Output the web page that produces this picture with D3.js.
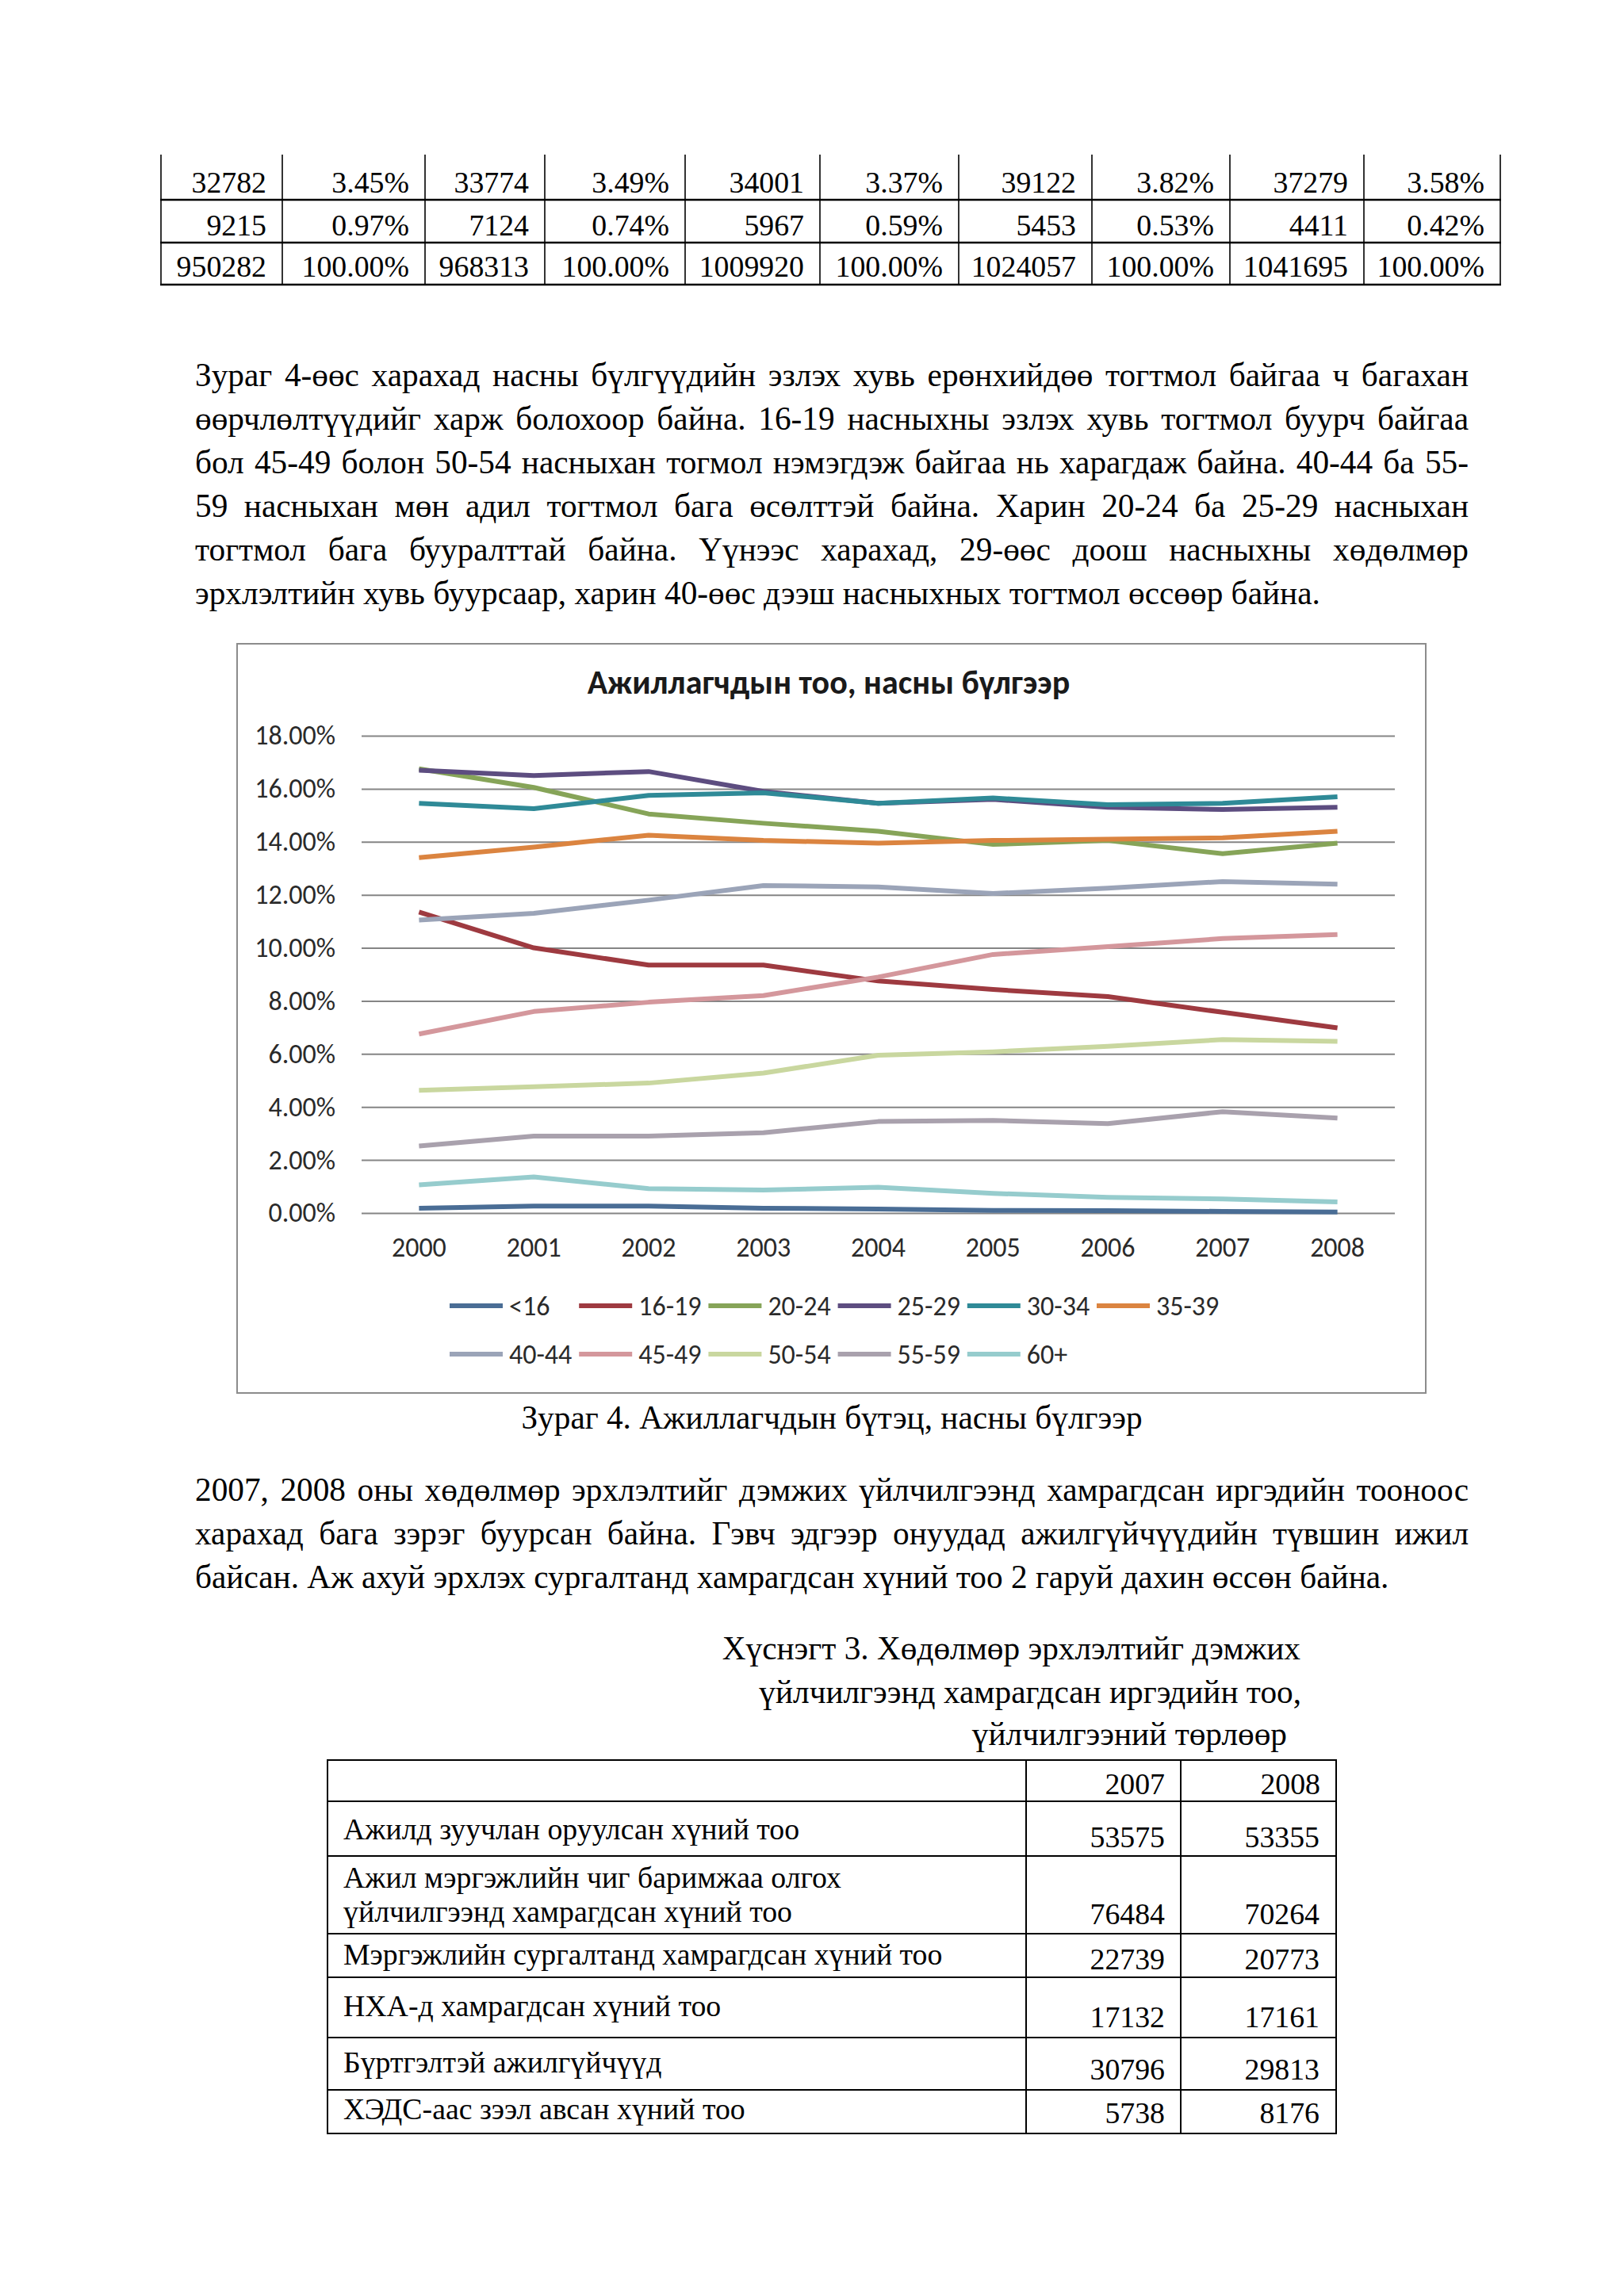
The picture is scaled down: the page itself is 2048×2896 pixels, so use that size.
<!DOCTYPE html>
<html><head><meta charset="utf-8">
<script src="https://cdn.jsdelivr.net/npm/d3@7"></script>
<style>
html,body{margin:0;padding:0;background:#fff;}
body{width:2048px;height:2896px;position:relative;overflow:hidden;}
svg{position:absolute;left:0;top:0;}
</style>
</head><body>
<svg id="page" width="2048" height="2896"></svg>
<script>
// ---------------- DATA ----------------
const years = ["2000","2001","2002","2003","2004","2005","2006","2007","2008"];
const ageGroups = ["<16","16-19","20-24","25-29","30-34","35-39","40-44","45-49","50-54","55-59","60+"];
const sUnder16 = [0.18,0.26,0.26,0.18,0.15,0.10,0.09,0.06,0.04];
const s16_19 = [11.35,10.00,9.35,9.35,8.75,8.43,8.16,7.57,6.98];
const s20_24 = [16.75,16.05,15.05,14.70,14.40,13.90,14.05,13.55,13.95];
const s25_29 = [16.70,16.50,16.65,15.90,15.45,15.60,15.30,15.22,15.30];
const s30_34 = [15.45,15.25,15.75,15.85,15.45,15.65,15.40,15.45,15.70];
const s35_39 = [13.40,13.80,14.25,14.05,13.95,14.05,14.10,14.15,14.40];
const s40_44 = [11.05,11.30,11.80,12.35,12.30,12.05,12.25,12.50,12.40];
const s45_49 = [6.75,7.60,7.95,8.20,8.90,9.75,10.05,10.35,10.50];
const s50_54 = [4.63,4.76,4.90,5.28,5.95,6.08,6.29,6.54,6.47];
const s55_59 = [2.53,2.90,2.90,3.03,3.45,3.49,3.37,3.82,3.58];
const s60plus = [1.06,1.36,0.92,0.87,0.97,0.74,0.59,0.53,0.42];
const seriesColors = ["#4a6d95","#9e3a40","#86a458","#5d4d80","#2f8a97","#db8440","#9ba4b8","#d4979c","#c9d79f","#a9a1ad","#96cccd"];
const yTickValues = [0,2,4,6,8,10,12,14,16,18];
const chartTitle = "Ажиллагчдын тоо, насны бүлгээр";

const topRow1 = ["32782","3.45%","33774","3.49%","34001","3.37%","39122","3.82%","37279","3.58%"];
const topRow2 = ["9215","0.97%","7124","0.74%","5967","0.59%","5453","0.53%","4411","0.42%"];
const topRow3 = ["950282","100.00%","968313","100.00%","1009920","100.00%","1024057","100.00%","1041695","100.00%"];

const para1Lines = [
 "Зураг 4-өөс харахад насны бүлгүүдийн эзлэх хувь ерөнхийдөө тогтмол байгаа ч багахан",
 "өөрчлөлтүүдийг харж болохоор байна. 16-19 насныхны эзлэх хувь тогтмол буурч байгаа",
 "бол 45-49 болон 50-54 насныхан тогмол нэмэгдэж байгаа нь харагдаж байна. 40-44 ба 55-",
 "59 насныхан мөн адил тогтмол бага өсөлттэй байна. Харин 20-24 ба 25-29 насныхан",
 "тогтмол бага бууралттай байна. Үүнээс харахад, 29-өөс доош насныхны хөдөлмөр",
 "эрхлэлтийн хувь буурсаар, харин 40-өөс дээш насныхных тогтмол өссөөр байна."
];
const figCaption = "Зураг 4. Ажиллагчдын бүтэц, насны бүлгээр";
const para2Lines = [
 "2007, 2008 оны хөдөлмөр эрхлэлтийг дэмжих үйлчилгээнд хамрагдсан иргэдийн тооноос",
 "харахад бага зэрэг буурсан байна. Гэвч эдгээр онуудад ажилгүйчүүдийн түвшин ижил",
 "байсан. Аж ахуй эрхлэх сургалтанд хамрагдсан хүний тоо 2 гаруй дахин өссөн байна."
];
const tableCaption = ["Хүснэгт 3. Хөдөлмөр эрхлэлтийг дэмжих","үйлчилгээнд хамрагдсан иргэдийн тоо,","үйлчилгээний төрлөөр"];
const tableYears = ["2007","2008"];
const serviceLabels = [
 ["Ажилд зуучлан оруулсан хүний тоо"],
 ["Ажил мэргэжлийн чиг баримжаа олгох","үйлчилгээнд хамрагдсан хүний тоо"],
 ["Мэргэжлийн сургалтанд хамрагдсан хүний тоо"],
 ["НХА-д хамрагдсан хүний тоо"],
 ["Бүртгэлтэй ажилгүйчүүд"],
 ["ХЭДС-аас зээл авсан хүний тоо"]
];
const services2007 = [53575,76484,22739,17132,30796,5738];
const services2008 = [53355,70264,20773,17161,29813,8176];

// ---------------- DRAW ----------------
const allSeries = [sUnder16,s16_19,s20_24,s25_29,s30_34,s35_39,s40_44,s45_49,s50_54,s55_59,s60plus];
const svg = d3.select("#page");
const SERIF = "'Liberation Serif','Times New Roman',serif";
const SANS = "Carlito,Calibri,Lato,sans-serif";
const BODY_FS = 41.3;   // 12pt
const TBL_FS = 37.8;    // 11pt

function stext(g, x, y, str, anchor, fs){
  return g.append("text").attr("x",x).attr("y",y)
    .attr("text-anchor", anchor||"start")
    .attr("font-family", SERIF).attr("font-size", fs||BODY_FS).attr("fill","#000")
    .text(str);
}
function justLine(g, str, x0, x1, baseline, justify){
  const t = g.append("text").attr("x",x0).attr("y",baseline)
    .attr("font-family",SERIF).attr("font-size",BODY_FS).attr("fill","#000");
  if(!justify){ t.text(str); return; }
  const words = str.split(" ");
  const spans = words.map(w=> t.append("tspan").attr("y",baseline).text(w));
  const widths = spans.map(s=> s.node().getComputedTextLength());
  const gap = ((x1-x0) - d3.sum(widths))/(words.length-1);
  let x = x0;
  spans.forEach((s,i)=>{ s.attr("x",x); x += widths[i]+gap; });
}
function para(lines, x0, x1, firstBase, pitch){
  const g = svg.append("g");
  lines.forEach((t,i)=> justLine(g, t, x0, x1, firstBase+i*pitch, i<lines.length-1));
}

// top table
(function(){
  const g = svg.append("g");
  const colX = [203,356,536,687,864,1034,1209,1377,1551,1720,1892];
  const rowLines = [252,306,359];
  const baselines = [243,297,349];
  colX.forEach(x=>g.append("line").attr("x1",x).attr("x2",x).attr("y1",195).attr("y2",360).attr("stroke","#000").attr("stroke-width",1.6));
  rowLines.forEach(y=>g.append("line").attr("x1",202).attr("x2",1893).attr("y1",y).attr("y2",y).attr("stroke","#000").attr("stroke-width",2.6));
  [topRow1,topRow2,topRow3].forEach((row,r)=>{
    row.forEach((v,c)=> stext(g, colX[c+1]-20, baselines[r], v, "end", TBL_FS));
  });
})();

para(para1Lines, 246, 1852, 487, 55);
para(para2Lines, 246, 1852, 1893, 55);

// chart
(function(){
  const g = svg.append("g");
  g.append("rect").attr("x",299).attr("y",812).attr("width",1499).attr("height",945)
    .attr("fill","#fff").attr("stroke","#8c8c8c").attr("stroke-width",2);
  g.append("text").attr("x",1045).attr("y",875).attr("text-anchor","middle")
    .attr("font-family",SANS).attr("font-weight","bold").attr("font-size",42).attr("fill","#1a1a1a")
    .text(chartTitle);

  const x = d3.scaleBand().domain(years).range([456,1759]);
  const y = d3.scaleLinear().domain([0,18]).range([1530,928]);
  const cx = yr => x(yr) + x.bandwidth()/2;

  const yAxis = g.append("g").attr("transform","translate(456,0)")
    .call(d3.axisLeft(y).tickValues(yTickValues).tickSize(-(1759-456)).tickPadding(33)
      .tickFormat(d=>d.toFixed(2)+"%"));
  yAxis.select(".domain").remove();
  yAxis.selectAll(".tick line").attr("stroke","#858585").attr("stroke-width",2);
  yAxis.selectAll(".tick text").attr("font-family",SANS).attr("font-size",34).attr("fill","#2a2a2a");

  const xAxis = g.append("g").attr("transform","translate(0,1530)")
    .call(d3.axisBottom(x).tickSize(0).tickPadding(31));
  xAxis.select(".domain").remove();
  xAxis.selectAll(".tick text").attr("font-family",SANS).attr("font-size",34).attr("fill","#2a2a2a");

  const line = d3.line().x((d,i)=>cx(years[i])).y(d=>y(d));
  allSeries.forEach((s,i)=>{
    g.append("path").attr("d",line(s)).attr("fill","none")
      .attr("stroke",seriesColors[i]).attr("stroke-width",6)
      .attr("stroke-linejoin","round").attr("stroke-linecap","butt");
  });

  // legend
  const lg = g.append("g");
  ageGroups.forEach((name,i)=>{
    const row = i<6?0:1, col = i<6?i:i-6;
    const lx = 567 + col*163.2, ly = row===0?1647:1708;
    lg.append("line").attr("x1",lx).attr("x2",lx+67).attr("y1",ly).attr("y2",ly)
      .attr("stroke",seriesColors[i]).attr("stroke-width",6);
    lg.append("text").attr("x",lx+75).attr("y",ly).attr("dy","0.35em")
      .attr("font-family",SANS).attr("font-size",34).attr("fill","#2a2a2a").text(name);
  });
})();

// figure caption
stext(svg, 1049, 1802, figCaption, "middle");

// table caption
stext(svg, 1640, 2093, tableCaption[0], "end");
stext(svg, 1641, 2148, tableCaption[1], "end");
stext(svg, 1623, 2201, tableCaption[2], "end");

// bottom table
(function(){
  const g = svg.append("g");
  const colX = [413,1294,1489,1685];
  const rowY = [2220,2272,2341,2439,2494,2570,2636,2691];
  colX.forEach(x=>g.append("line").attr("x1",x).attr("x2",x).attr("y1",2219).attr("y2",2692).attr("stroke","#000").attr("stroke-width",2));
  rowY.forEach(y=>g.append("line").attr("x1",412).attr("x2",1686).attr("y1",y).attr("y2",y).attr("stroke","#000").attr("stroke-width",2));
  tableYears.forEach((t,i)=> stext(g, colX[i+2]-20, 2263, t, "end", TBL_FS));
  const labelBase = [[2320],[2381,2424],[2478],[2543],[2614],[2673]];
  const valBase = [2330,2427,2484,2557,2623,2678];
  serviceLabels.forEach((lines,r)=>{
    lines.forEach((t,k)=> stext(g, 433, labelBase[r][k], t, "start", TBL_FS));
    stext(g, colX[2]-20, valBase[r], String(services2007[r]), "end", TBL_FS);
    stext(g, colX[3]-21, valBase[r], String(services2008[r]), "end", TBL_FS);
  });
})();
</script>
</body></html>
